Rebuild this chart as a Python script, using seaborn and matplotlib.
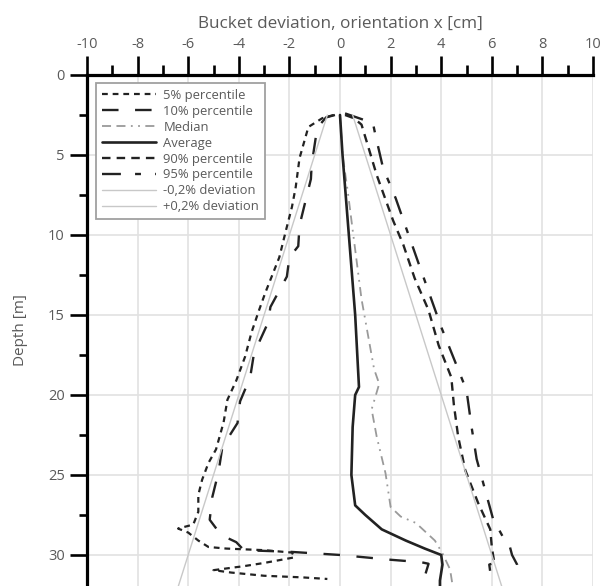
import matplotlib
matplotlib.use("Agg")
import matplotlib.pyplot as plt
from matplotlib.ticker import MultipleLocator
import seaborn as sns
import pandas as pd

# ---------------- data ----------------
p5_depth = [2.5, 2.7, 3.25, 5.2, 7.0, 8.25, 9.8, 11.4, 12.6, 13.6, 14.7, 16.1, 17.6, 19.1,
            20.3, 21.7, 23.4, 24.25, 25.3, 26.25, 27.3, 28.1, 28.35, 28.6, 29.1, 29.5, 29.6,
            29.7, 29.85, 30.15, 30.5, 30.7, 30.95, 31.1, 31.3, 31.4, 31.5]
p5_x = [-0.25, -0.7, -1.25, -1.6, -1.75, -1.9, -2.15, -2.4, -2.7, -2.95, -3.2, -3.5, -3.75, -4.1,
        -4.45, -4.6, -4.9, -5.2, -5.45, -5.6, -5.6, -5.8, -6.4, -6.0, -5.6, -5.2, -4.5,
        -3.0, -1.9, -1.8, -3.0, -3.8, -5.0, -4.3, -3.0, -1.5, -0.5]

p10_depth = [2.5, 2.65, 3.3, 5.6, 6.5, 9.4, 10.7, 11.4, 12.6, 14.5, 15.5, 17.4, 18.9, 20.4,
             21.75, 23.25, 24.8, 26.4, 27.8, 28.75, 29.2, 29.7, 29.8, 30.0, 30.3, 30.45, 30.55, 31.6]
p10_x = [-0.2, -0.55, -0.9, -1.12, -1.15, -1.6, -1.65, -2.0, -2.1, -2.75, -2.85, -3.4, -3.55, -3.95,
         -4.05, -4.65, -4.8, -5.05, -5.15, -4.7, -4.1, -3.8, -2.0, 0.0, 2.0, 3.2, 3.5, 3.3]

med_depth = [2.5, 5.0, 7.2, 10.3, 14.0, 18.4, 19.3, 20.9, 22.6, 24.9, 27.0, 27.6, 28.0, 29.1,
             29.9, 30.9, 31.9]
med_x = [0.0, 0.1, 0.3, 0.55, 0.85, 1.35, 1.55, 1.25, 1.45, 1.8, 2.0, 2.4, 3.0, 3.75,
         4.05, 4.35, 4.45]

avg_depth = [2.5, 5.0, 10.0, 15.0, 19.5, 20.0, 22.0, 25.0, 26.9, 27.5, 28.4, 29.1, 29.6, 30.0,
             30.6, 31.6, 32.0]
avg_x = [0.0, 0.1, 0.35, 0.6, 0.75, 0.6, 0.5, 0.45, 0.6, 1.0, 1.65, 2.6, 3.35, 4.0,
         4.05, 3.95, 3.95]

p90_depth = [2.5, 2.7, 3.1, 4.4, 6.25, 9.1, 10.6, 12.7, 14.7, 16.9, 18.9, 20.6, 22.6, 24.7,
             26.75, 28.4, 29.5, 30.5, 30.6, 31.2]
p90_x = [0.2, 0.55, 0.85, 1.1, 1.45, 2.1, 2.5, 2.95, 3.5, 3.9, 4.4, 4.5, 4.67, 4.95,
         5.46, 5.94, 6.0, 6.1, 5.9, 5.95]

p95_depth = [2.4, 2.7, 3.0, 3.75, 5.8, 7.7, 11.75, 15.75, 19.7, 22.0, 24.0, 27.75, 28.9, 29.4,
             30.0, 30.6, 31.4]
p95_x = [0.2, 0.75, 1.3, 1.4, 1.7, 2.2, 3.1, 4.0, 5.0, 5.2, 5.4, 6.05, 6.45, 6.7,
         6.8, 7.0, 7.1]

dev_depth = [2.5, 32.0]
dev_minus = [-0.5, -6.4]
dev_plus = [0.5, 6.4]

x_ticks = [-10, -8, -6, -4, -2, 0, 2, 4, 6, 8, 10]
y_ticks = [0, 5, 10, 15, 20, 25, 30]

# ---------------- styling ----------------
sns.set_theme(style="white")
plt.rcParams["font.family"] = ["Open Sans", "DejaVu Sans"]
plt.rcParams["axes.unicode_minus"] = False
TXT = "#5a5a5a"
DARK = "#222222"

fig = plt.figure(figsize=(6.04, 5.86), dpi=100)
ax = fig.add_axes([87 / 604, 0, 506 / 604, 511 / 586])

series = [
    ("5% percentile", p5_x, p5_depth, DARK, 1.6, (0, (2.6, 2.2))),
    ("10% percentile", p10_x, p10_depth, DARK, 1.7, (0, (7, 7))),
    ("Median", med_x, med_depth, "#9a9a9a", 1.3, (0, (5, 3, 5, 3, 1, 3, 1, 3))),
    ("Average", avg_x, avg_depth, DARK, 1.9, "-"),
    ("90% percentile", p90_x, p90_depth, DARK, 1.7, (0, (3.6, 2.6))),
    ("95% percentile", p95_x, p95_depth, DARK, 1.7, (0, (8, 6, 2.5, 6))),
    ("-0,2% deviation", dev_minus, dev_depth, "#c8c8c8", 1.0, "-"),
    ("+0,2% deviation", dev_plus, dev_depth, "#c8c8c8", 1.0, "-"),
]

handles = []
for label, xs, ds, col, lw, ls in series:
    df = pd.DataFrame({"x": xs, "depth": ds})
    sns.lineplot(data=df, x="x", y="depth", sort=False, estimator=None, ax=ax,
                 color=col, linewidth=lw, label=label, legend=False)
    ln = ax.get_lines()[-1]
    ln.set_linestyle(ls)
    handles.append(ln)

ax.set_xlim(-10, 10)
ax.set_ylim(31.94, 0)

ax.xaxis.tick_top()
ax.xaxis.set_label_position("top")
ax.set_xticks(x_ticks)
ax.set_xticklabels([str(v) for v in x_ticks])
ax.xaxis.set_minor_locator(MultipleLocator(1))
ax.set_yticks(y_ticks)
ax.set_yticklabels([str(v) for v in y_ticks])
ax.yaxis.set_minor_locator(MultipleLocator(2.5))

for s in ["right", "bottom"]:
    ax.spines[s].set_visible(False)
for s in ["top", "left"]:
    ax.spines[s].set_visible(True)
    ax.spines[s].set_color("black")
    ax.spines[s].set_linewidth(2.3)

ax.tick_params(axis="x", which="major", direction="out", length=13.5, width=1.9,
               color="black", labelsize=10.5, labelcolor=TXT, pad=3,
               top=True, bottom=False, labeltop=True, labelbottom=False)
ax.tick_params(axis="x", which="minor", direction="out", length=7, width=1.9,
               color="black", top=True, bottom=False)
ax.tick_params(axis="y", which="major", direction="out", length=12, width=1.9,
               color="black", labelsize=10.5, labelcolor=TXT, pad=4, left=True)
ax.tick_params(axis="y", which="minor", direction="out", length=6, width=1.9,
               color="black", left=True)

ax.grid(True, which="major", color="#e2e2e2", linewidth=1.2)
ax.set_axisbelow(True)

ax.set_xlabel("Bucket deviation, orientation x [cm]", fontsize=12.3, color=TXT, labelpad=7)
ax.set_ylabel("Depth [m]", fontsize=11, color=TXT, labelpad=14)

leg = ax.legend(handles=handles, labels=[s[0] for s in series],
                loc="upper left", bbox_to_anchor=(0.018, 0.984), borderaxespad=0,
                fontsize=9.4, handlelength=4.1, handletextpad=0.6, labelspacing=0.22,
                frameon=True, fancybox=False, framealpha=1, edgecolor="#a0a0a0",
                borderpad=0.45)
leg.get_frame().set_linewidth(1.3)
for t in leg.get_texts():
    t.set_color(TXT)

fig.savefig("out.png", dpi=100)
